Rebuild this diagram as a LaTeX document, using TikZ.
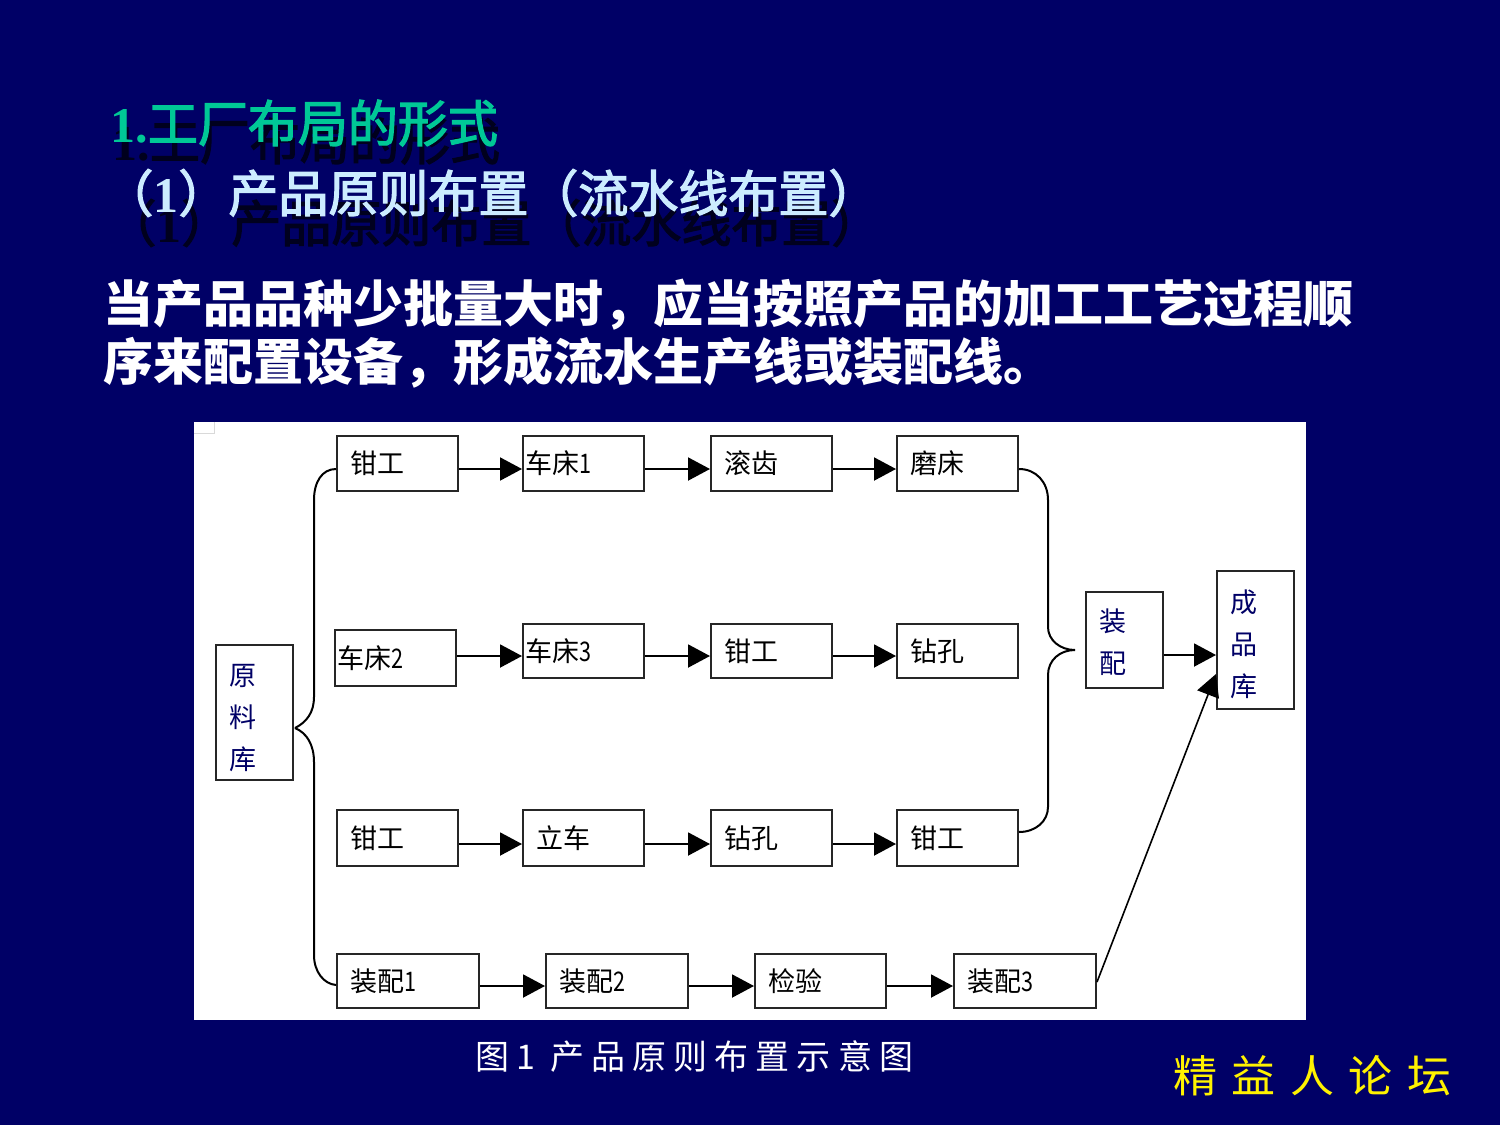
\documentclass[tikz,border=0pt]{standalone}
\usepackage{fontspec}
\usetikzlibrary{arrows.meta,calc}
\setmainfont{Liberation Serif}
\newfontfamily\cjk{Noto Sans CJK SC}
\newfontfamily\cjkm[FakeBold=2.5]{Noto Sans CJK SC}
\newfontfamily\dgt[FakeStretch=0.8]{Noto Sans CJK SC}
\newfontfamily\cjkcap[LetterSpace=21]{Noto Sans CJK SC}
\newfontfamily\cjkyel[LetterSpace=33]{Noto Sans CJK SC}
\definecolor{slide}{RGB}{0,0,102}
\definecolor{teal}{RGB}{0,200,150}
\definecolor{pale}{RGB}{204,236,255}
\definecolor{shade}{RGB}{0,0,30}
\tikzset{
  boxn/.style={draw=black!85,line width=1pt,fill=white,inner ysep=0pt,align=left,font=\cjk\fontsize{13.5}{21}\selectfont,text=black},
  arr/.style={line width=1pt,-{Triangle[length=11pt,width=11.5pt]}},
  brace/.style={line width=1pt},
  big/.style={anchor=base west,inner sep=0pt,font=\fontsize{25}{25}\selectfont},
}
\newcommand\bx[8][black]{%
  \pgfmathsetmacro\bw{(#5-#3)*.5}\pgfmathsetmacro\bh{(#6-#4)*.5}%
  \pgfmathsetmacro\bi{#7*.5}\pgfmathsetmacro\bt{(#5-#3-2*#7)*.5}%
  \node[boxn,text=#1,minimum width=\bw pt,minimum height=\bh pt,inner xsep=\bi pt,text width=\bt pt]
    (#2) at ({(#3+#5)/2},{(#4+#6)/2}) {#8};}
\begin{document}
\begin{tikzpicture}[x=.5pt,y=-.5pt]
\useasboundingbox (0,0) rectangle (1500,1125);
\fill[slide] (0,0) rectangle (1500,1125);
% titles
\node[big,text=shade] (t1s) at (112,160) {\bfseries 1.\mdseries\cjkm 工厂布局的形式};
\node[big,text=teal] (t1) at (110,142) {\bfseries 1.\mdseries\cjkm 工厂布局的形式};
\node[big,text=shade] (t2s) at (106,242) {\cjkm（\rmfamily\bfseries 1\cjkm\mdseries）产品原则布置（流水线布置）};
\node[big,text=pale] (t2) at (103,212) {\cjkm（\rmfamily\bfseries 1\cjkm\mdseries）产品原则布置（流水线布置）};
\node[big,text=white] (b1) at (103,322) {\cjk\bfseries 当产品品种少批量大时，应当按照产品的加工工艺过程顺};
\node[big,text=white] (b2) at (103,380) {\cjk\bfseries 序来配置设备，形成流水生产线或装配线。};
% panel
\fill[white] (194,422) rectangle (1306,1020);
\draw[black!15,line width=.5pt] (194,433) -- (214,433) -- (214,422);
% boxes
\bx[slide]{src}{216}{645}{293}{780}{13}{\rule{0pt}{15.8pt}原\\料\\库}
\bx{a1}{337}{436}{458}{491}{13}{钳工}
\bx{a2}{523}{436}{644}{491}{2}{车床{\dgt 1}}
\bx{a3}{711}{436}{832}{491}{13}{滚齿}
\bx{a4}{897}{436}{1018}{491}{13}{磨床}
\bx{b1x}{335}{630}{456}{686}{2}{车床{\dgt 2}}
\bx{b2x}{523}{624}{644}{678}{2}{车床{\dgt 3}}
\bx{b3x}{711}{624}{832}{678}{13}{钳工}
\bx{b4x}{897}{624}{1018}{678}{13}{钻孔}
\bx{c1}{337}{810}{458}{866}{13}{钳工}
\bx{c2}{523}{810}{644}{866}{13}{立车}
\bx{c3}{711}{810}{832}{866}{13}{钻孔}
\bx{c4}{897}{810}{1018}{866}{13}{钳工}
\bx{d1}{337}{954}{479}{1008}{13}{装配{\dgt 1}}
\bx{d2}{546}{954}{688}{1008}{13}{装配{\dgt 2}}
\bx{d3}{755}{954}{886}{1008}{13}{检验}
\bx{d4}{954}{954}{1096}{1008}{13}{装配{\dgt 3}}
\bx[slide]{asm}{1086}{592}{1163}{688}{13}{\rule{0pt}{13.6pt}装\\配}
\bx[slide]{out}{1217}{571}{1294}{709}{13}{\rule{0pt}{16.1pt}成\\品\\库}
% arrows
\draw[arr] (a1.east |- 0,469) -- (a2.west |- 0,469);
\draw[arr] (a2.east |- 0,469) -- (a3.west |- 0,469);
\draw[arr] (a3.east |- 0,469) -- (a4.west |- 0,469);
\draw[arr] (b1x.east |- 0,656) -- (b2x.west |- 0,656);
\draw[arr] (b2x.east |- 0,656) -- (b3x.west |- 0,656);
\draw[arr] (b3x.east |- 0,656) -- (b4x.west |- 0,656);
\draw[arr] (c1.east |- 0,844) -- (c2.west |- 0,844);
\draw[arr] (c2.east |- 0,844) -- (c3.west |- 0,844);
\draw[arr] (c3.east |- 0,844) -- (c4.west |- 0,844);
\draw[arr] (d1.east |- 0,986) -- (d2.west |- 0,986);
\draw[arr] (d2.east |- 0,986) -- (d3.west |- 0,986);
\draw[arr] (d3.east |- 0,986) -- (d4.west |- 0,986);
\draw[arr] (asm.east |- 0,655) -- (out.west |- 0,655);
\draw[arr,line width=.8pt] (d4.east |- 0,982) -- (out.west |- 0,674);
% braces
\coordinate (lt) at (295,728);
\coordinate (rt) at (1075,650);
\draw[brace] (lt) .. controls (307,722) and (314,712) .. (314,697) -- (314,500) .. controls (314,482) and (322,469) .. (a1.west |- 0,469);
\draw[brace] (lt) .. controls (307,733) and (314,745) .. (314,762) -- (314,955) .. controls (314,972) and (324,984) .. (d1.west |- 0,985);
\draw[brace] (a4.east |- 0,469) .. controls (1036,469) and (1048,482) .. (1048,500) -- (1048,627) .. controls (1048,640) and (1060,650) .. (rt);
\draw[brace] (rt) .. controls (1060,650) and (1048,660) .. (1048,675) -- (1048,807) .. controls (1048,821) and (1036,832) .. (c4.east |- 0,832);
% captions
\node[anchor=base west,inner sep=0pt,text=white,font=\cjkcap\fontsize{17}{17}\selectfont] (cap) at (475,1069) {图1 产品原则布置示意图};
\node[anchor=base west,inner sep=0pt,text=yellow,font=\cjkyel\fontsize{22}{22}\selectfont] (wm) at (1173,1092) {精益人论坛};
\end{tikzpicture}
\end{document}
